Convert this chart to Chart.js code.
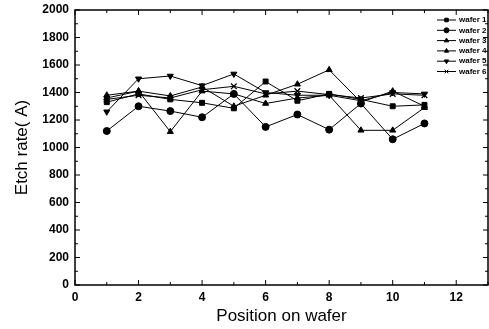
<!DOCTYPE html>
<html>
<head>
<meta charset="utf-8">
<script src="https://cdn.jsdelivr.net/npm/chart.js@4/dist/chart.umd.min.js"></script>
<style>
  html, body { margin: 0; padding: 0; background: #fff; }
  #wrap { width: 489px; height: 329px; position: relative; }
</style>
</head>
<body>
<div id="wrap"><canvas id="etchChart"></canvas></div>
<script>
// positions on the wafer
const positions = [1, 2, 3, 4, 5, 6, 7, 8, 9, 10, 11];

// etch rate per wafer (A)
const wafer1 = [1330, 1390, 1350, 1325, 1285, 1480, 1340, 1390, 1350, 1300, 1310];
const wafer2 = [1120, 1300, 1265, 1220, 1390, 1150, 1240, 1130, 1320, 1060, 1175];
const wafer3 = [1380, 1410, 1115, 1410, 1390, 1320, 1360, 1380, 1125, 1125, 1290];
const wafer4 = [1360, 1410, 1375, 1440, 1300, 1380, 1460, 1565, 1330, 1410, 1300];
const wafer5 = [1260, 1500, 1520, 1450, 1535, 1400, 1380, 1380, 1340, 1400, 1390];
const wafer6 = [1350, 1380, 1360, 1420, 1445, 1390, 1410, 1385, 1360, 1390, 1380];

const seriesNames = ['wafer 1', 'wafer 2', 'wafer 3', 'wafer 4', 'wafer 5', 'wafer 6'];
const seriesValues = [wafer1, wafer2, wafer3, wafer4, wafer5, wafer6];
const markers = ['rect', 'circle', 'triangle', 'triangle', 'triangle', 'crossRot'];
const rotations = [0, 0, 0, 0, 180, 0];

const xTicks = [0, 2, 4, 6, 8, 10, 12];
const yTicks = [0, 200, 400, 600, 800, 1000, 1200, 1400, 1600, 1800, 2000];

const FONT = '"Liberation Sans", Arial, sans-serif';

const datasets = seriesValues.map((vals, i) => ({
    label: seriesNames[i],
    data: positions.map((x, j) => ({ x: x, y: vals[j] })),
    borderColor: '#000',
    backgroundColor: '#000',
    borderWidth: 1,
    pointStyle: markers[i],
    rotation: rotations[i],
    pointRadius: markers[i] === 'crossRot' ? 4 : 3.5,
    pointBorderWidth: markers[i] === 'crossRot' ? 1.3 : 1,
    tension: 0
}));

// frame, inward ticks and legend drawn on top of the chart area
const framePlugin = {
    id: 'frame',
    afterDraw(chart) {
        const ctx = chart.ctx;
        const a = chart.chartArea;
        const xs = chart.scales.x, ys = chart.scales.y;
        ctx.save();
        ctx.strokeStyle = '#000';
        ctx.lineWidth = 1.5;
        ctx.strokeRect(a.left, a.top, a.right - a.left, a.bottom - a.top);
        ctx.lineWidth = 1;
        ctx.beginPath();
        for (let v = 0; v <= 13; v++) {
            const px = xs.getPixelForValue(v);
            const len = v % 2 === 0 ? 5 : 3;
            ctx.moveTo(px, a.bottom); ctx.lineTo(px, a.bottom - len);
            ctx.moveTo(px, a.top); ctx.lineTo(px, a.top + len);
        }
        for (let v = 0; v <= 2000; v += 100) {
            const py = ys.getPixelForValue(v);
            const len = v % 200 === 0 ? 5 : 3;
            ctx.moveTo(a.left, py); ctx.lineTo(a.left + len, py);
            ctx.moveTo(a.right, py); ctx.lineTo(a.right - len, py);
        }
        ctx.stroke();

        // legend
        const lx = 437, ly = 20, gap = 10.3;
        ctx.font = 'bold 8px ' + FONT;
        ctx.textBaseline = 'middle';
        ctx.fillStyle = '#000';
        chart.data.datasets.forEach((ds, i) => {
            const y = ly + i * gap;
            ctx.beginPath();
            ctx.moveTo(lx, y); ctx.lineTo(lx + 19, y);
            ctx.stroke();
            Chart.helpers.drawPoint(ctx, {
                pointStyle: ds.pointStyle,
                rotation: ds.rotation,
                radius: 2.5,
                borderWidth: 1
            }, lx + 9.5, y);
            ctx.fillText(ds.label, lx + 22, y);
        });
        ctx.restore();
    }
};

new Chart(document.getElementById('etchChart'), {
    type: 'line',
    data: { datasets: datasets },
    options: {
        responsive: true,
        maintainAspectRatio: false,
        animation: false,
        layout: { autoPadding: false, padding: { top: 10, right: 1, left: 0, bottom: 0 } },
        plugins: {
            legend: { display: false },
            tooltip: { enabled: false }
        },
        scales: {
            x: {
                type: 'linear',
                min: 0,
                max: 13,
                afterBuildTicks(scale) {
                    scale.ticks = xTicks.map(v => ({ value: v }));
                },
                afterFit(scale) {
                    scale.height = 44;
                    scale.paddingLeft = 0;
                    scale.paddingRight = 0;
                },
                grid: { display: false, drawTicks: false },
                border: { display: false },
                ticks: {
                    color: '#000',
                    padding: 5,
                    maxRotation: 0,
                    callback: v => String(v),
                    font: { family: FONT, size: 12, weight: 'bold' }
                },
                title: {
                    display: true,
                    text: 'Position on wafer',
                    color: '#000',
                    padding: { top: 0, bottom: 2 },
                    font: { family: FONT, size: 17 }
                }
            },
            y: {
                type: 'linear',
                min: 0,
                max: 2000,
                afterBuildTicks(scale) {
                    scale.ticks = yTicks.map(v => ({ value: v }));
                },
                afterFit(scale) {
                    scale.width = 75;
                    scale.paddingTop = 0;
                    scale.paddingBottom = 0;
                },
                grid: { display: false, drawTicks: false },
                border: { display: false },
                ticks: {
                    color: '#000',
                    padding: 6,
                    callback: v => String(v),
                    font: { family: FONT, size: 12, weight: 'bold' }
                },
                title: {
                    display: true,
                    text: 'Etch rate( A)',
                    color: '#000',
                    padding: { top: 12, bottom: 4 },
                    font: { family: FONT, size: 17 }
                }
            }
        }
    },
    plugins: [framePlugin]
});
</script>
</body>
</html>
